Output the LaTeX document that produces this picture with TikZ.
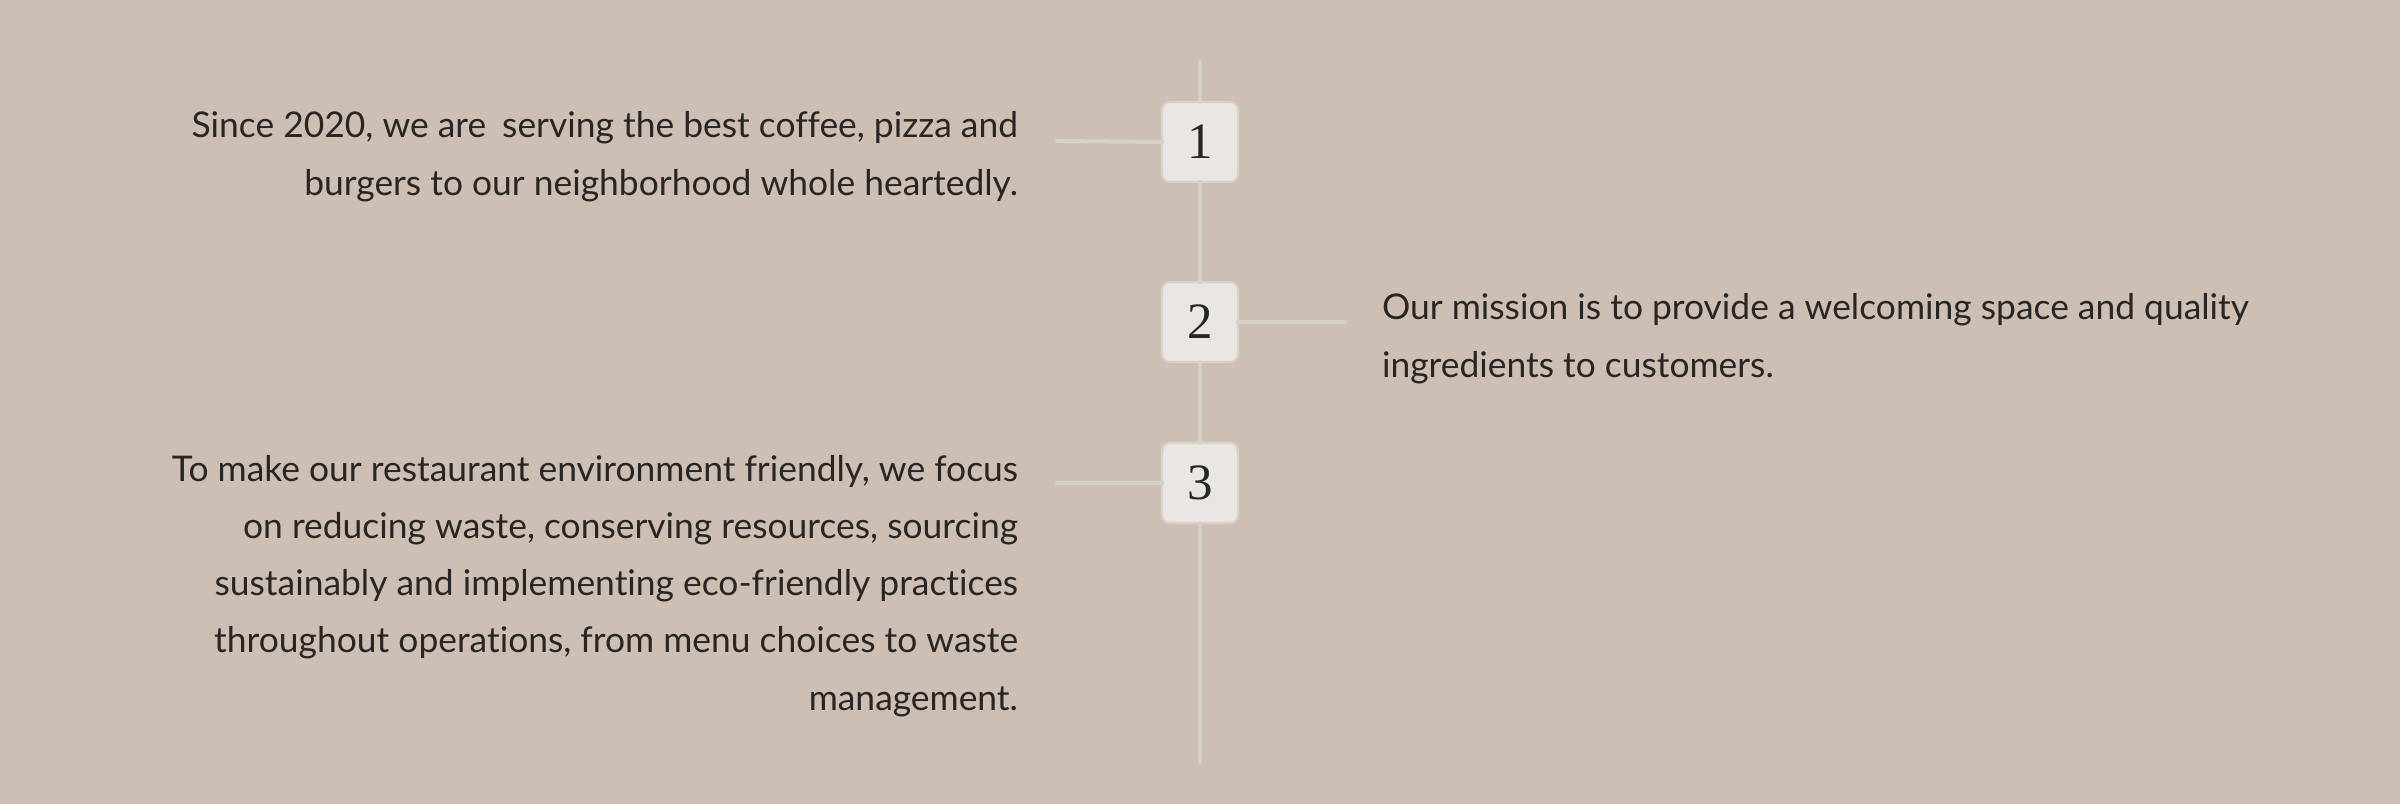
\documentclass[tikz,border=0pt]{standalone}
\usepackage{fontspec}
\setmainfont{Lato}[Ligatures=NoCommon]
\newfontfamily\digitfont{Liberation Serif}
\begin{document}
\begin{tikzpicture}[x=0.5pt,y=-0.5pt,
  every node/.style={inner sep=0pt, outer sep=0pt},
  stepbox/.style={draw=boxedge, line width=1.2pt, fill=boxfill, rounded corners=4pt,
    minimum width=38pt, minimum height=40pt,
    font=\digitfont\fontsize{25.5}{30}\selectfont, text=ink},
  rail/.style={draw=railgray, line width=2pt, line cap=round},
  story/.style={font=\fontsize{17.7}{28.6}\selectfont, text=ink}]
\definecolor{bg}{RGB}{205,191,179}
\definecolor{boxfill}{RGB}{234,230,225}
\definecolor{boxedge}{RGB}{216,210,204}
\definecolor{railgray}{RGB}{214,208,202}
\definecolor{ink}{RGB}{40,37,37}
\useasboundingbox[fill=bg] (0,0) rectangle (2400,804);

% timeline ends and connector ends
\coordinate (top) at (1200,62);
\coordinate (bottom) at (1200,762);
\coordinate (c1) at (1057,141);
\coordinate (c2) at (1345,322);
\coordinate (c3) at (1057,483);

% numbered steps
\node[stepbox] (b1) at (1200,142) {1};
\node[stepbox] (b2) at (1200,322) {2};
\node[stepbox] (b3) at (1200,483) {3};

% timeline segments between the steps
\draw[rail] (top) -- (b1.north);
\draw[rail] (b1.south) -- (b2.north);
\draw[rail] (b2.south) -- (b3.north);
\draw[rail] (b3.south) -- (bottom);

% connectors to the texts
\draw[rail] (c1) -- (b1.west);
\draw[rail] (b2.east) -- (c2);
\draw[rail] (c3) -- (b3.west);

% texts (base anchor sits on the last line)
\node[story, align=right, anchor=base east] (t1) at (1018,195)
  {Since 2020, we are\hspace{0.45em}serving the best coffee, pizza and\\
   burgers to our neighborhood whole heartedly.};
\node[story, align=left, anchor=base west] (t2) at (1382,377)
  {Our mission is to provide a welcoming space and quality\\
   ingredients to customers.};
\node[story, align=right, anchor=base east] (t3) at (1018,710)
  {To make our restaurant environment friendly, we focus\\
   on reducing waste, conserving resources, sourcing\\
   sustainably and implementing eco-friendly practices\\
   throughout operations, from menu choices to waste\\
   management.};
\end{tikzpicture}
\end{document}
